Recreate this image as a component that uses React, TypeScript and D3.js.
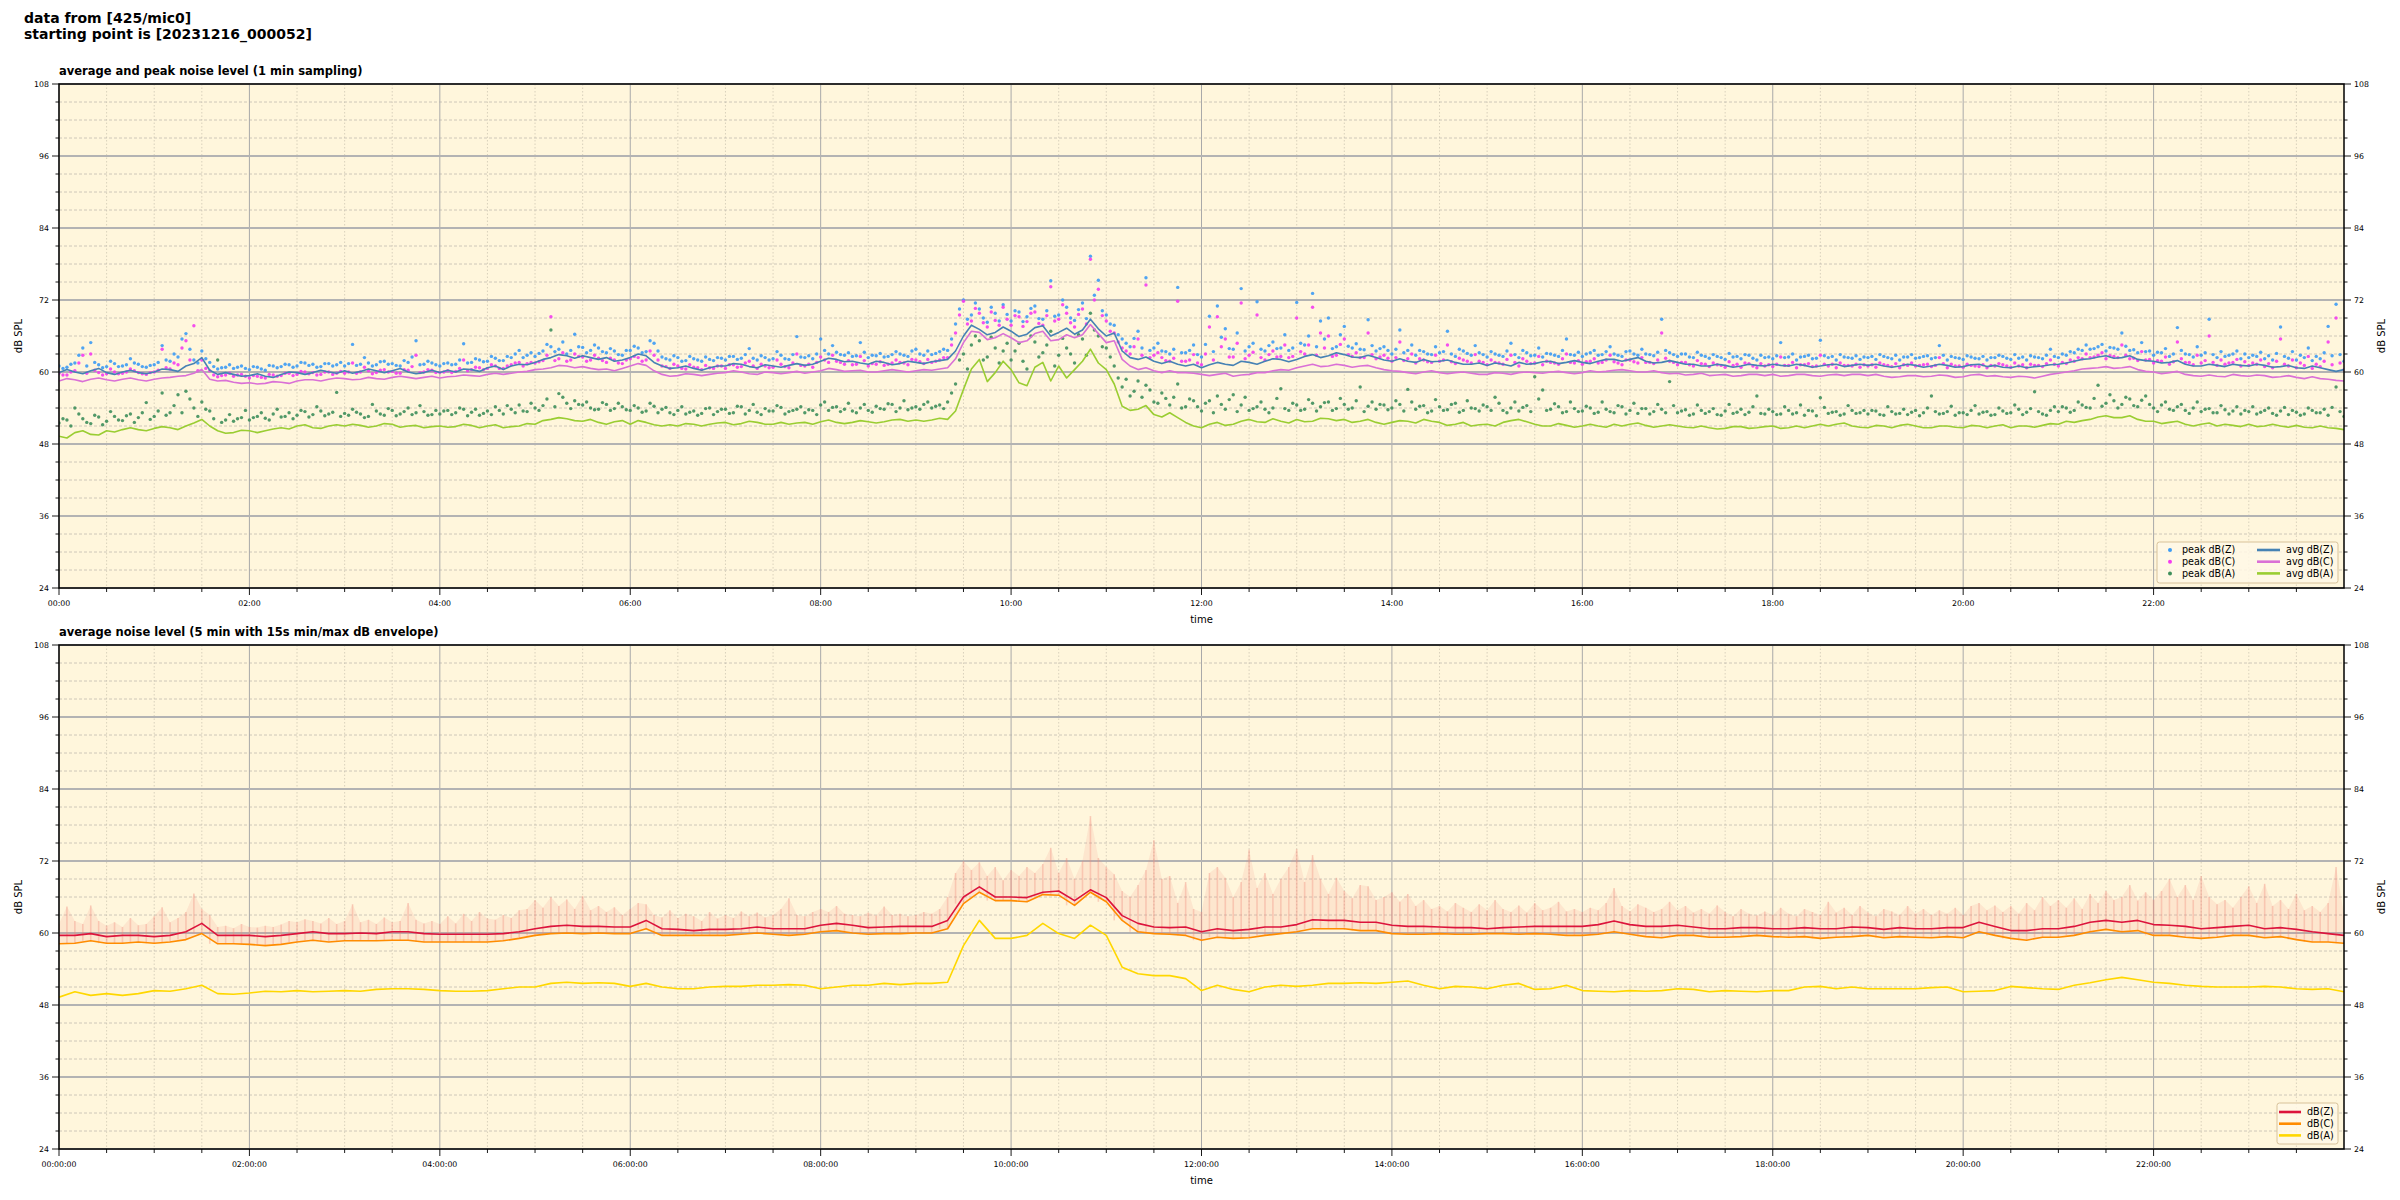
import React from "react";
import * as d3 from "d3";

// ---------- DATA ----------
// avg lines: values at hh:m0 (00:00 .. 24:00)
const avgZ = [
  59.9,60.0,60.2,59.9,60.0,59.9, 60.0,60.4,61.0,62.4,59.6,59.6, 59.4,59.3,59.6,59.9,59.9,60.0,
  60.2,60.1,60.2,60.2,60.0,59.9, 59.9,60.0,60.4,60.7,60.4,61.3, 61.6,62.4,62.7,62.7,62.1,61.8,
  62.4,62.7,61.0,60.7,60.6,60.7, 61.0,61.3,60.7,61.0,61.1,61.1, 61.8,62.1,61.8,61.3,61.6,61.4,
  61.6,61.7,62.1,66.0,67.1,66.6, 66.8,66.3,67.7,66.6,66.3,68.8, 66.0,63.5,62.1,61.8,61.8,61.0,
  60.7,61.6,61.1,61.6,61.8,62.1, 62.1,62.9,62.7,62.9,62.4,62.4, 61.8,61.8,62.1,61.8,61.6,61.3,
  61.1,61.3,61.6,61.4,61.8,61.6, 61.6,61.8,62.1,62.1,61.8,61.6, 61.6,61.3,61.0,61.1,61.0,61.1,
  61.3,61.0,61.1,61.0,61.3,61.1, 61.1,61.0,61.0,61.1,61.0,61.1, 60.9,61.3,61.1,60.7,60.7,61.0,
  61.3,61.8,62.2,62.7,62.4,62.1, 61.8,61.6,61.3,61.0,61.1,61.3, 61.0,61.1,60.9,60.7,61.0,60.4,
  60.4
];
// avg lines: values at hh:m5 (00:05 .. 23:55)
const avgZmid = [
  60.4,59.7,60.6,59.6,60.3,59.7, 60.5,60.1,61.4,60.3,59.9,59.3, 59.7,59.1,60.0,59.6,60.3,59.8,
  59.8,60.5,59.9,60.6,59.7,60.3, 60.3,60.5,60.1,61.0,61.0,61.2, 62.1,62.9,62.3,62.4,62.4,62.0,
  63.0,61.6,60.6,61.0,60.3,61.0, 61.4,60.9,61.2,60.8,61.4,61.3, 62.3,61.7,61.5,61.8,61.2,61.8,
  61.4,61.9,63.5,67.8,66.2,67.5, 65.9,67.4,66.0,67.3,67.0,67.2, 66.5,62.4,62.5,61.4,61.3,61.3,
  61.2,61.3,61.8,61.3,62.2,61.7, 62.6,62.4,63.2,62.5,62.8,62.0, 62.2,61.6,61.7,62.0,61.3,61.5,
  61.5,61.0,61.3,61.7,61.4,61.9, 61.4,62.1,61.8,62.4,61.5,61.9, 61.3,61.0,61.3,60.8,61.3,61.0,
  61.1,61.3,60.8,61.2,60.9,61.3, 61.3,60.8,61.3,60.8,61.3,60.8, 61.2,60.9,60.8,61.0,60.9,61.2,
  61.5,62.1,62.5,62.3,62.7,61.9, 61.5,61.9,61.0,61.3,60.9,61.1, 61.3,60.8,61.1,60.6,60.7,60.1
];
const avgC = [
  58.5,58.7,58.8,58.7,58.8,58.7, 58.8,59.1,59.4,60.4,58.5,58.3, 58.2,58.1,58.3,58.5,58.7,58.8,
  58.9,58.8,58.9,59.1,59.1,59.1, 59.0,59.3,59.4,59.6,59.6,60.0, 60.4,60.7,61.0,60.9,60.4,60.2,
  61.0,61.1,59.6,59.4,59.6,59.6, 59.9,60.0,59.6,59.9,59.9,59.8, 60.2,60.4,60.2,60.0,60.2,60.2,
  60.2,60.3,60.7,64.9,66.6,65.7, 65.7,65.2,66.8,65.4,65.7,67.9, 64.9,62.1,60.4,60.2,60.2,59.9,
  59.6,59.6,59.3,59.6,59.9,60.4, 60.7,61.3,61.0,61.1,61.0,60.7, 60.2,59.9,60.0,59.9,59.9,59.8,
  59.6,59.8,59.9,59.9,60.0,59.9, 59.9,60.0,60.3,60.2,60.0,59.9, 59.8,59.6,59.4,59.6,59.4,59.6,
  59.6,59.4,59.6,59.3,59.6,59.6, 59.4,59.3,59.2,59.4,59.3,59.4, 59.2,59.6,59.4,59.1,59.2,59.3,
  59.8,60.2,60.6,60.9,60.7,60.4, 60.0,59.9,59.6,59.3,59.3,59.6, 59.3,59.4,59.2,59.1,59.2,58.8,
  58.5
];
const avgCmid = [
  58.9,58.4,59.0,58.5,59.0,58.5, 59.0,59.3,59.8,58.8,58.6,58.1, 58.0,58.4,58.1,58.7,58.5,59.0,
  58.7,59.1,58.8,59.3,58.9,59.3, 59.2,59.5,59.3,59.8,59.8,60.1, 60.5,61.1,60.7,60.6,60.5,60.6,
  61.4,60.2,59.3,59.7,59.4,59.8, 60.2,59.7,60.0,59.7,60.1,60.0, 60.6,60.1,60.3,60.0,60.4,60.0,
  60.4,60.5,62.2,66.8,65.4,66.4, 64.9,66.4,65.2,66.2,66.2,66.4, 65.2,61.0,60.7,59.9,59.9,59.8,
  59.4,59.8,59.5,59.9,60.2,60.3, 61.0,60.9,61.3,60.8,61.1,60.4, 60.1,59.7,60.2,59.7,60.0,59.6,
  59.9,59.6,60.0,59.8,60.1,59.7, 60.2,60.1,60.4,60.0,60.2,59.7, 59.5,59.8,59.5,59.3,59.6,59.4,
  59.3,59.6,59.4,59.5,59.4,59.6, 59.6,59.1,59.4,59.2,59.5,59.1, 59.5,59.3,59.2,59.3,59.0,59.6,
  60.0,60.5,60.7,60.6,60.9,60.1, 59.7,60.1,59.4,59.5,59.2,59.4, 59.5,59.1,59.4,58.9,58.9,58.6
];
const avgA = [
  49.3,49.9,49.6,50.2,50.4,50.4, 50.6,50.7,51.0,52.1,50.2,49.9, 50.2,50.2,50.7,51.0,50.7,51.0,
  51.0,51.1,51.0,51.3,51.0,50.7, 51.0,50.9,51.1,51.0,50.7,51.0, 51.3,52.1,52.2,51.8,51.6,51.7,
  51.3,51.6,51.0,51.0,51.3,51.3, 51.6,51.4,51.6,51.3,51.3,51.6, 51.7,51.6,51.6,51.7,51.7,52.1,
  52.0,52.0,52.1,57.1,62.1,59.9, 60.4,57.7,61.6,61.0,60.4,63.8, 60.4,54.3,53.8,52.9,53.2,51.6,
  50.7,51.6,51.3,52.1,51.6,51.8, 52.1,51.8,52.2,52.1,51.8,51.6, 51.6,51.8,52.1,51.6,51.3,51.0,
  51.3,51.6,52.1,51.3,51.0,51.1, 51.0,51.0,51.3,51.3,51.1,51.0, 51.0,50.7,50.7,50.6,50.9,50.7,
  51.0,50.7,50.7,51.3,51.3,51.0, 50.7,51.0,51.1,51.0,50.7,51.0, 50.7,51.0,51.0,50.7,51.0,51.1,
  51.3,51.6,52.1,52.7,52.4,52.1, 51.8,51.6,51.3,51.3,51.0,51.1, 51.3,51.0,51.0,51.1,50.7,50.7,
  50.4
];
const avgAmid = [
  49.0,50.2,49.5,50.0,50.7,50.2, 50.9,50.4,51.5,51.0,49.8,50.3, 49.9,50.5,50.5,51.2,50.6,51.2,
  51.3,50.8,51.4,50.8,51.1,50.9, 50.8,51.3,50.7,51.2,50.9,51.4, 51.9,52.4,51.9,52.1,51.3,51.9,
  51.9,51.2,51.2,51.4,51.0,51.5, 51.2,51.8,51.3,51.6,51.5,51.3, 52.0,51.4,51.9,51.5,52.0,51.8,
  51.8,52.3,53.5,60.5,58.4,61.8, 58.2,60.8,58.5,59.0,61.8,61.5, 58.0,53.6,54.4,52.5,52.4,51.0,
  51.3,51.1,51.8,51.7,52.2,51.5, 51.7,52.3,51.9,51.6,52.1,51.3, 51.9,51.5,51.8,51.1,51.6,51.2,
  51.0,51.9,51.7,51.0,51.4,50.8, 51.3,50.8,51.0,51.5,50.8,51.2, 50.8,51.0,50.5,50.9,50.6,50.9,
  50.6,51.0,51.0,51.0,51.5,50.8, 51.1,50.7,51.3,50.7,51.0,50.8, 51.1,50.7,51.2,51.0,50.8,51.4,
  51.8,51.9,52.5,52.4,52.7,51.8, 51.4,51.8,51.0,51.5,51.3,50.9, 50.9,51.3,50.8,50.8,51.0,50.6
];

// peaks: values at hh:m0 and hh:m5 (00:00 .. 24:00), one row per hour
const peakZ = [
  61.0,60.8,61.5,64.0,64.9,61.2,60.9,61.4,61.0,62.2,61.3,60.8,
  61.2,64.4,61.8,62.5,66.4,62.0,63.5,61.6,60.5,60.8,60.6,61.0,
  60.4,60.8,60.3,61.0,60.9,61.2,61.0,61.5,61.3,60.9,61.4,61.2,
  61.0,64.6,61.3,61.5,61.2,61.8,61.4,61.0,61.6,65.2,61.3,61.5,
  61.0,61.5,61.3,64.7,61.6,62.0,61.8,62.3,61.9,62.4,63.6,62.8,
  62.6,63.5,64.2,63.8,63.0,66.3,64.1,63.6,64.0,63.2,63.5,62.8,
  63.6,64.0,63.4,64.8,62.5,62.0,62.4,61.9,62.2,61.8,62.1,62.4,
  62.0,62.6,62.3,63.9,62.0,62.4,62.2,62.8,62.1,65.9,62.4,62.2,
  65.5,63.0,63.3,62.8,62.6,64.9,62.4,62.7,62.5,62.9,63.0,62.6,
  63.8,62.8,62.9,63.4,63.6,68.0,72.0,69.5,70.5,68.3,69.8,71.2,
  68.5,70.0,69.2,71.0,68.8,75.2,69.5,70.8,68.6,71.5,79.3,75.3,
  69.5,67.8,65.5,64.2,66.8,75.7,64.0,63.5,63.0,74.1,63.2,64.5,
  62.5,69.3,71.0,67.2,63.8,73.9,64.2,71.7,63.5,65.0,64.0,63.6,
  71.6,64.5,73.1,68.5,69.0,64.2,67.6,64.0,63.8,68.7,63.5,64.2,
  63.0,67.0,63.6,62.8,63.4,62.9,63.2,66.8,62.6,63.5,62.8,63.2,
  62.5,63.0,62.6,64.8,62.4,63.2,62.8,62.5,63.0,62.6,65.5,62.8,
  62.6,63.2,62.8,63.4,63.0,62.6,63.5,62.8,63.0,62.7,68.8,63.2,
  62.6,63.0,62.4,62.8,62.3,62.6,62.1,62.5,62.2,62.8,62.0,62.4,
  62.2,64.9,62.5,62.0,62.6,62.2,65.3,62.4,62.0,62.5,62.3,62.1,
  62.4,62.1,62.6,62.2,62.0,62.5,62.3,62.6,62.2,64.4,62.0,62.4,
  62.1,62.5,62.2,62.0,62.4,62.6,62.1,62.3,62.0,62.5,62.2,63.8,
  62.4,62.8,63.2,63.6,63.8,64.2,63.5,64.0,66.5,63.6,63.2,63.4,
  62.8,63.2,62.6,67.4,63.0,62.5,62.8,68.8,62.4,62.6,63.0,62.2,
  62.4,62.6,62.2,62.0,67.5,62.3,62.0,62.4,61.9,62.2,67.6,71.3,
  61.8
];
// peaks: values at hh:m2:30 and hh:m7:30
const peakZb = [
  60.6,61.3,62.8,61.0,61.6,60.7,61.8,60.9,61.2,61.5,60.9,61.1,
  61.6,62.0,63.0,65.5,63.8,61.5,62.2,60.9,60.7,61.2,60.8,60.6,
  60.9,60.5,61.1,60.7,61.3,60.8,61.6,61.1,60.8,61.4,61.0,61.6,
  61.4,61.1,62.4,61.0,61.7,61.3,61.1,61.9,62.5,61.2,61.8,61.2,
  61.4,61.2,62.0,61.5,62.2,61.7,62.6,61.9,62.6,63.0,62.4,63.2,
  63.1,64.6,63.4,65.0,63.6,64.2,63.2,64.5,63.4,63.9,62.9,63.6,
  64.3,63.2,65.2,63.5,62.2,62.7,61.8,62.6,62.0,62.5,61.9,62.3,
  62.6,62.1,62.9,62.3,62.7,62.0,63.4,62.2,62.9,62.5,62.7,63.0,
  63.6,64.4,62.9,63.2,62.7,63.3,62.8,63.1,62.6,63.4,62.8,63.5,
  63.0,63.5,63.1,63.8,65.5,70.5,68.8,71.5,69.0,70.8,68.5,69.6,
  70.2,68.4,70.6,68.9,70.2,69.3,72.0,69.0,70.4,68.9,72.8,70.2,
  68.0,66.2,64.8,65.6,64.0,63.6,64.8,63.4,63.8,63.2,63.6,62.9,
  64.6,63.4,65.8,63.9,66.5,63.5,64.8,63.8,64.4,63.9,66.2,64.0,
  64.8,66.0,64.2,65.5,63.9,66.2,64.3,64.7,63.7,64.4,63.9,63.6,
  63.8,63.2,64.5,63.6,63.0,64.2,63.4,63.0,63.8,63.1,64.4,62.9,
  63.4,62.8,63.5,62.9,63.6,62.7,64.0,63.1,62.8,63.6,62.9,63.3,
  63.0,63.6,62.9,64.2,62.8,63.4,63.0,63.8,62.9,63.3,63.6,62.9,
  63.0,62.5,63.3,62.6,62.9,62.4,63.1,62.6,62.9,62.3,62.8,62.5,
  62.7,62.4,63.0,62.5,62.8,62.3,62.7,62.6,62.9,62.4,62.7,62.5,
  62.6,62.9,62.4,62.8,62.5,62.9,62.4,62.7,62.4,62.8,62.6,62.3,
  62.7,62.3,62.6,62.4,62.8,62.3,62.9,62.5,62.7,62.4,62.8,62.6,
  63.0,63.4,63.8,64.5,63.9,64.6,64.1,63.8,64.3,63.7,64.9,63.5,
  63.3,63.9,63.0,63.6,62.9,64.2,63.2,62.9,63.4,62.8,63.5,63.0,
  62.8,63.3,62.7,63.1,62.6,63.4,62.8,64.0,62.6,63.2,62.7,62.9
];
const peakC = [
  59.8,59.5,60.2,62.8,63.0,59.9,59.7,60.0,59.8,60.5,59.9,59.6,
  60.0,63.8,60.5,61.2,65.2,67.7,62.0,60.2,59.2,59.5,59.3,59.6,
  59.0,59.3,59.0,59.5,59.4,59.8,59.6,60.0,59.9,59.6,60.0,59.8,
  59.8,61.5,60.0,60.2,59.9,60.4,60.1,59.8,60.3,62.8,60.0,60.3,
  59.9,60.2,60.1,62.0,60.4,60.7,60.6,61.0,60.6,61.2,61.6,61.4,
  61.5,61.9,69.2,62.2,61.8,63.0,62.5,62.0,62.3,61.6,62.0,61.4,
  62.2,62.4,62.0,62.8,61.0,60.6,61.0,60.5,60.8,60.4,60.7,61.0,
  60.6,61.2,60.9,61.8,60.6,61.0,60.8,61.3,60.7,63.0,61.0,60.8,
  62.5,61.6,61.8,61.3,61.2,62.6,61.0,61.3,61.1,61.5,61.6,61.2,
  62.0,61.4,61.6,62.0,62.4,66.5,71.8,68.5,69.8,67.5,68.6,70.8,
  67.8,69.2,68.4,70.0,67.8,74.2,68.8,69.8,67.5,70.5,78.8,73.8,
  68.5,66.5,64.0,63.0,65.5,74.5,62.8,62.4,61.8,71.8,61.8,62.9,
  61.2,67.5,69.2,65.5,62.5,71.5,62.8,69.5,62.0,63.5,62.6,62.4,
  69.0,63.0,70.8,66.5,66.0,62.8,65.5,62.6,62.4,66.5,62.2,62.8,
  61.8,65.0,62.2,61.5,62.0,61.6,61.8,64.5,61.4,62.0,61.5,61.8,
  61.2,61.6,61.3,62.8,61.0,61.8,61.5,61.2,61.6,61.3,63.0,61.5,
  61.3,61.8,61.5,62.0,61.7,61.2,62.0,61.5,61.6,61.4,66.5,61.8,
  61.2,61.6,61.0,61.4,60.9,61.2,60.8,61.1,60.8,61.4,60.7,61.0,
  60.9,62.5,61.1,60.7,61.2,60.9,62.8,61.0,60.7,61.1,61.0,60.8,
  61.0,60.8,61.2,60.9,60.7,61.1,61.0,61.2,60.9,62.4,60.7,61.0,
  60.8,61.1,60.9,60.7,61.0,61.2,60.8,61.0,60.7,61.1,60.9,62.0,
  61.0,61.4,61.8,62.2,62.4,62.8,62.2,62.6,64.5,62.2,61.9,62.0,
  61.5,61.8,61.3,65.0,61.6,61.2,61.5,66.0,61.1,61.3,61.6,61.0,
  61.1,61.3,60.9,60.7,65.5,61.0,60.7,61.1,60.6,60.9,65.0,69.0,
  60.4
];
const peakCb = [
  59.5,60.0,61.5,59.8,60.3,59.5,60.5,59.7,60.0,60.2,59.7,59.9,
  60.3,60.7,61.5,64.0,62.0,60.2,60.6,59.5,59.4,59.8,59.5,59.3,
  59.4,59.1,59.6,59.3,59.8,59.4,60.1,59.7,59.5,60.0,59.6,60.1,
  60.0,59.8,60.8,59.7,60.3,60.0,59.8,60.4,60.9,59.9,60.4,59.9,
  60.0,59.9,60.6,60.2,60.8,60.4,61.2,60.6,61.0,61.5,61.0,61.6,
  61.7,62.8,61.9,63.2,62.0,62.6,61.8,62.8,61.9,62.3,61.5,62.0,
  62.6,61.8,63.5,62.0,60.9,61.3,60.6,61.2,60.7,61.1,60.6,61.0,
  61.2,60.8,61.5,61.0,61.3,60.7,62.0,60.9,61.5,61.1,61.3,61.6,
  62.0,62.8,61.6,61.9,61.3,61.9,61.4,61.7,61.3,62.0,61.5,62.1,
  61.7,62.1,61.8,62.4,64.5,69.5,68.0,70.6,68.2,70.0,67.8,68.8,
  69.4,67.6,69.8,68.1,69.4,68.5,71.2,68.2,69.6,68.0,72.0,69.4,
  66.8,65.0,63.5,64.2,62.8,62.4,63.2,61.9,62.3,61.8,62.0,61.5,
  63.0,62.0,64.2,62.5,64.8,62.2,63.3,62.4,62.9,62.5,64.5,62.6,
  63.4,64.5,62.8,64.0,62.6,64.6,62.9,63.2,62.4,62.9,62.5,62.3,
  62.4,61.9,63.0,62.2,61.7,62.8,62.0,61.7,62.3,61.8,62.9,61.6,
  62.0,61.5,62.1,61.6,62.2,61.4,62.6,61.8,61.5,62.2,61.6,61.9,
  61.7,62.2,61.6,62.8,61.5,62.0,61.7,62.4,61.6,62.0,62.3,61.6,
  61.6,61.2,61.9,61.3,61.5,61.1,61.7,61.3,61.5,61.0,61.4,61.2,
  61.3,61.1,61.6,61.2,61.4,61.0,61.3,61.3,61.5,61.1,61.3,61.2,
  61.2,61.5,61.1,61.4,61.2,61.5,61.1,61.3,61.1,61.4,61.3,61.0,
  61.3,61.0,61.2,61.1,61.4,61.0,61.5,61.2,61.3,61.1,61.4,61.3,
  61.6,62.0,62.4,63.0,62.5,63.2,62.7,62.4,62.8,62.3,63.4,62.1,
  61.9,62.5,61.7,62.2,61.6,62.8,61.9,61.6,62.0,61.5,62.1,61.7,
  61.5,62.0,61.4,61.8,61.3,62.0,61.5,62.6,61.3,61.8,61.2,61.5
];
const peakA = [
  51.5,52.0,54.0,52.2,51.4,52.5,51.8,52.6,51.9,53.0,52.4,54.9,
  52.6,56.5,53.2,56.2,56.8,54.0,55.0,53.5,62.0,52.0,51.8,52.4,
  52.0,52.6,52.3,53.0,52.5,53.2,52.8,53.4,52.9,53.5,53.0,56.6,
  53.1,53.8,53.0,52.6,53.5,52.8,53.6,53.0,54.0,53.2,53.4,52.9,
  53.0,53.6,53.2,53.8,53.3,52.8,53.5,54.2,53.0,53.8,54.5,53.4,
  54.0,54.4,67.0,56.4,54.8,55.2,54.5,54.0,53.8,54.6,53.9,54.2,
  53.6,54.0,53.5,54.3,53.8,53.2,53.6,53.0,53.5,53.1,54.0,53.4,
  53.8,53.2,54.2,53.6,53.3,53.9,53.5,54.1,53.4,53.8,53.2,53.6,
  54.5,53.6,54.2,53.8,53.5,54.0,53.6,54.3,53.8,54.6,54.0,53.7,
  54.2,54.6,54.0,54.5,55.0,58.0,63.0,64.5,65.2,62.5,64.0,63.5,
  62.0,64.8,60.5,65.0,63.2,66.8,62.8,64.0,61.5,65.5,69.8,66.0,
  64.0,61.0,57.5,56.0,58.5,57.8,55.0,56.5,54.5,58.0,54.2,55.2,
  53.5,55.2,56.0,53.8,56.2,54.5,53.6,54.2,53.8,54.0,57.2,53.6,
  54.5,53.8,54.8,54.2,55.0,53.9,54.6,54.0,57.5,54.3,53.8,54.5,
  54.0,54.6,57.1,53.8,54.4,53.5,54.2,53.7,54.8,53.6,54.0,53.5,
  54.2,55.8,53.6,54.0,53.5,54.4,59.2,57.0,53.8,54.2,53.4,53.9,
  53.5,54.0,53.3,53.8,53.2,54.2,53.6,53.1,53.9,53.4,53.8,58.4,
  53.2,53.7,53.0,53.6,53.4,52.9,53.5,53.1,53.8,53.3,56.0,53.0,
  53.4,53.0,53.6,53.2,52.8,53.5,55.7,53.1,53.4,53.0,53.6,53.2,
  53.0,53.5,52.8,53.4,53.1,52.9,53.6,53.2,56.0,53.0,53.4,52.8,
  53.2,53.6,53.0,53.4,52.9,53.5,53.2,53.8,53.3,56.7,53.0,53.6,
  53.4,54.0,53.6,54.5,54.0,57.8,54.8,55.2,54.6,55.5,54.2,56.0,
  54.0,54.5,53.8,54.2,53.6,54.0,53.4,53.9,53.2,53.7,53.5,53.0,
  53.4,53.0,53.6,53.1,53.5,52.9,53.3,53.0,53.6,53.2,52.8,57.5,
  52.6
];
const peakAb = [
  52.2,51.0,53.0,51.6,52.8,51.2,53.4,52.0,52.7,51.6,53.2,52.1,
  53.5,52.8,54.4,53.2,55.5,52.6,53.8,52.2,51.6,52.9,52.2,53.6,
  52.4,53.2,52.0,53.8,52.6,52.2,53.6,52.5,54.2,52.7,53.3,52.6,
  52.8,53.3,52.4,54.6,53.0,53.9,52.7,53.4,52.9,54.4,52.8,53.6,
  53.5,52.9,54.0,52.7,53.8,53.1,52.9,53.6,54.4,53.2,53.5,54.8,
  53.6,55.5,54.2,55.8,53.9,54.6,55.0,53.7,54.9,53.6,54.8,53.7,
  54.4,53.3,54.8,53.2,54.1,52.9,54.2,53.3,52.8,53.9,52.9,53.8,
  53.1,54.3,53.0,54.6,52.9,53.5,54.4,53.0,53.6,54.2,53.7,52.9,
  55.0,54.1,53.4,54.8,53.2,54.6,53.3,53.9,54.7,53.4,55.2,54.0,
  53.8,55.0,54.3,53.9,56.5,62.0,60.5,66.0,62.0,65.8,61.5,64.8,
  63.5,61.8,66.0,62.5,64.5,61.0,65.6,63.0,66.2,62.8,67.0,64.2,
  62.5,59.0,58.8,56.8,55.8,57.0,54.8,55.6,55.8,54.0,55.5,54.2,
  54.8,53.2,54.6,55.4,53.4,55.8,53.9,55.0,53.2,55.6,53.9,54.8,
  53.6,55.4,53.5,54.9,53.6,55.6,53.8,55.2,53.4,55.0,54.6,53.7,
  55.2,53.5,55.0,54.3,53.2,55.4,53.6,54.6,53.3,55.2,53.9,54.5,
  53.6,54.8,53.2,55.0,54.1,53.4,55.5,53.6,54.7,53.2,55.0,53.4,
  54.3,53.1,55.0,53.4,54.4,53.0,54.8,53.9,53.0,54.6,53.2,54.4,
  53.5,52.8,54.5,53.1,53.9,52.8,54.6,53.3,52.9,54.2,53.1,53.8,
  52.9,54.2,53.0,54.5,53.6,52.7,54.1,53.3,52.8,54.4,53.1,53.6,
  53.6,52.9,54.2,53.0,53.8,53.3,52.7,54.0,53.4,53.1,54.3,53.2,
  52.9,54.4,53.3,52.8,54.0,53.1,54.5,52.9,53.9,53.4,52.8,54.2,
  54.2,53.3,55.0,54.1,55.6,54.3,56.2,54.0,55.8,54.4,55.3,54.6,
  53.4,55.0,53.6,54.6,53.1,55.0,53.8,53.2,54.4,53.0,54.2,53.6,
  54.2,53.3,54.0,52.8,54.1,53.6,52.8,54.0,53.2,53.8,54.1,53.4
];

// bottom panel: 5-min averages sampled every 10 min
const dbZ = [
  59.6,59.6,59.9,59.4,59.6,59.6, 59.4,59.6,60.2,61.6,59.6,59.6, 59.6,59.4,59.6,59.9,60.2,59.9,
  59.9,60.0,59.9,60.2,60.2,59.9, 59.8,59.8,59.8,59.8,59.9,60.2, 60.7,61.1,61.3,61.1,61.1,61.0,
  61.0,62.1,60.7,60.6,60.4,60.6, 60.6,60.7,61.0,60.7,60.7,60.7, 61.3,61.6,61.3,60.9,61.0,61.1,
  61.1,61.1,62.1,66.0,67.7,66.0, 66.0,65.9,66.8,67.0,65.4,67.2, 65.9,62.9,61.6,61.0,60.9,61.0,
  60.2,60.7,60.4,60.6,61.0,61.0, 61.4,62.2,62.1,62.1,61.8,61.8, 61.3,61.1,61.1,61.0,60.9,60.9,
  60.7,60.9,61.0,61.1,61.1,61.1, 61.1,61.4,62.0,61.4,61.1,61.1, 61.3,61.0,60.7,60.7,60.9,60.9,
  60.7,60.7,60.9,60.7,60.7,61.0, 60.9,60.6,60.9,60.7,60.7,60.9, 60.9,61.8,61.1,60.4,60.4,60.7,
  60.7,61.1,61.8,62.1,61.8,62.1, 61.4,61.3,61.1,60.7,60.9,61.1, 61.3,60.7,60.9,60.6,60.2,59.9,
  59.6
];
const dbC = [
  58.2,58.3,58.7,58.3,58.3,58.5, 58.3,58.5,58.9,59.9,58.2,58.2, 58.1,57.9,58.1,58.5,58.8,58.5,
  58.7,58.7,58.7,58.8,58.8,58.5, 58.5,58.5,58.5,58.5,58.7,59.1, 59.6,59.9,60.0,59.9,60.0,59.9,
  59.9,60.7,59.6,59.6,59.6,59.6, 59.6,59.8,60.0,59.8,59.6,59.8, 60.2,60.4,60.0,59.8,59.9,59.9,
  60.0,60.0,60.7,64.9,66.8,65.4, 65.4,65.2,66.4,66.3,64.6,66.8, 65.2,62.1,60.2,59.9,59.8,59.6,
  58.8,59.3,59.1,59.2,59.6,59.9, 60.2,60.7,60.7,60.7,60.4,60.4, 59.9,59.8,59.8,59.9,59.8,59.8,
  59.9,59.9,59.8,59.9,59.8,59.6, 59.6,59.8,60.2,59.8,59.4,59.2, 59.6,59.6,59.3,59.3,59.4,59.6,
  59.4,59.3,59.4,59.1,59.3,59.4, 59.6,59.2,59.4,59.3,59.2,59.4, 59.2,60.2,59.6,59.1,58.8,59.3,
  59.3,59.6,60.2,60.6,60.2,60.4, 59.6,59.6,59.3,59.1,59.3,59.6, 59.6,59.2,59.4,58.9,58.5,58.5,
  58.3
];
const dbA = [
  49.3,50.2,49.6,49.9,49.6,49.9, 50.4,50.3,50.7,51.3,49.9,49.8, 50.0,50.3,50.2,50.4,50.2,50.3,
  50.4,50.3,50.6,50.7,50.7,50.6, 50.4,50.3,50.3,50.4,50.7,51.0, 51.0,51.6,51.8,51.6,51.7,51.6,
  51.1,51.6,51.0,50.7,50.7,51.0, 51.1,51.1,51.3,51.3,51.4,51.3, 50.7,51.0,51.3,51.3,51.6,51.4,
  51.6,51.6,51.8,57.9,62.1,59.1, 59.1,59.6,61.6,59.9,59.1,61.3, 59.6,54.3,53.2,52.9,52.9,52.4,
  50.4,51.3,50.6,50.2,51.0,51.3, 51.1,51.3,51.6,51.6,51.7,51.6, 51.8,52.0,51.3,50.7,51.1,51.0,
  50.7,51.3,51.6,50.6,50.7,51.3, 50.4,50.3,50.2,50.4,50.3,50.4, 50.7,50.6,50.2,50.4,50.3,50.2,
  50.4,50.4,51.0,51.1,50.7,51.0, 50.7,50.7,50.7,50.7,50.9,51.0, 50.2,50.3,50.4,51.1,50.9,50.7,
  50.6,51.3,51.7,52.2,52.6,52.2, 51.8,51.6,51.3,51.1,51.0,51.0, 51.0,51.1,51.0,50.7,50.6,50.7,
  50.2
];
// 15 s max envelope, highest value per 5 minutes
const envMax = [
  61.5,64.4,62.0,61.5,64.6,62.0,61.2,61.8,61.0,62.5,61.3,61.5,
  62.8,64.3,61.8,62.5,63.5,66.6,64.0,63.0,61.0,61.2,60.8,61.5,
  61.0,60.9,61.2,61.0,61.4,62.0,61.8,62.3,62.0,61.6,62.5,61.5,
  62.0,64.8,61.8,62.2,61.5,62.6,61.8,62.0,65.0,62.2,61.6,62.0,
  61.5,62.8,61.6,63.2,62.0,63.5,62.4,62.2,63.0,62.5,63.8,64.0,
  65.5,64.2,66.0,64.5,65.6,64.0,66.2,63.8,64.5,63.5,64.3,63.0,
  64.0,65.0,64.8,63.0,62.6,63.8,62.5,63.2,62.8,62.0,63.5,62.4,
  63.0,62.5,63.6,62.8,63.4,62.6,63.0,64.0,65.8,63.0,62.8,63.5,
  64.0,63.5,64.5,63.2,63.0,62.8,63.4,62.9,64.4,63.0,63.2,62.8,
  63.0,63.5,63.2,64.0,66.0,70.0,72.0,70.5,71.8,69.5,71.0,68.8,
  70.5,69.5,71.0,70.0,71.5,74.2,70.0,72.5,69.0,72.0,79.5,72.5,
  71.0,69.8,67.0,66.0,68.0,70.5,75.5,69.0,69.5,65.0,68.5,64.0,
  63.5,70.0,71.0,69.2,66.0,68.5,73.9,67.5,70.0,66.5,69.0,71.0,
  74.0,68.5,73.0,69.0,66.5,69.2,67.0,65.8,68.0,67.8,65.5,66.0,
  66.8,65.2,66.5,64.5,65.5,64.0,64.5,63.6,65.0,64.2,63.5,64.8,
  63.8,65.5,64.0,63.5,64.6,63.4,65.0,63.8,64.2,65.2,63.6,64.0,
  63.5,64.2,63.8,65.0,67.5,64.5,63.6,64.8,64.2,63.5,64.0,65.2,
  63.8,64.5,63.4,64.0,63.2,64.6,63.5,62.8,64.0,63.2,62.9,63.6,
  63.0,64.2,63.2,62.8,64.0,63.5,63.0,65.2,63.4,64.2,63.0,64.5,
  63.4,62.8,64.0,63.6,63.0,64.5,63.2,64.0,63.0,63.8,63.2,64.2,
  63.0,64.5,65.0,63.8,64.6,63.5,64.5,63.2,65.0,63.8,66.0,64.5,
  65.5,64.2,65.8,64.0,66.5,65.0,67.0,65.5,66.0,68.0,65.4,66.8,
  65.5,67.0,69.0,66.0,68.0,65.5,69.5,66.0,64.8,65.5,64.2,66.0,
  67.8,65.0,68.2,64.5,65.5,64.0,66.5,63.8,64.5,63.5,65.0,71.0,
  63.0
];

const yTicks = [24, 36, 48, 60, 72, 84, 96, 108];

// ---------- LAYOUT ----------
const W = 2400, H = 1200;
const X0 = 59, X1 = 2344;
const BG = "#fff6dc";
const x = d3.scaleLinear().domain([0, 24 * 60]).range([X0, X1]);
const FONT = "DejaVu Sans, sans-serif";

const pad = (n: number) => String(n).padStart(2, "0");

type PanelProps = {
  top: number;
  bottom: number;
  title: string;
  secs: boolean;
  children: (y: d3.ScaleLinear<number, number>) => React.ReactNode;
};

function Panel({ top, bottom, title, secs, children }: PanelProps) {
  const y = d3.scaleLinear().domain([24, 108]).range([bottom, top]);
  const minorY = d3.range(24, 109, 3).filter((v) => v % 12 !== 0);
  const majorX = d3.range(0, 24 * 60 + 1, 120).filter((v) => v < 24 * 60);
  const minorX = d3.range(0, 24 * 60 + 1, 30).filter((v) => v % 120 !== 0);
  const clipId = `clip${top}`;
  return (
    <g>
      <defs>
        <clipPath id={clipId}>
          <rect x={X0} y={top} width={X1 - X0} height={bottom - top} />
        </clipPath>
      </defs>
      <rect x={X0} y={top} width={X1 - X0} height={bottom - top} fill={BG} />
      {minorX.map((t) => (
        <line key={"mx" + t} x1={x(t)} x2={x(t)} y1={top} y2={bottom} stroke="#cfc8b4" strokeWidth={0.8} strokeDasharray="1.5,2" />
      ))}
      {minorY.map((v) => (
        <line key={"my" + v} x1={X0} x2={X1} y1={y(v)} y2={y(v)} stroke="#c2bdb0" strokeWidth={0.8} strokeDasharray="3,2" />
      ))}
      {majorX.map((t) => (
        <line key={"Mx" + t} x1={x(t)} x2={x(t)} y1={top} y2={bottom} stroke="#a9a9a9" strokeWidth={1} />
      ))}
      {yTicks.map((v) => (
        <line key={"My" + v} x1={X0} x2={X1} y1={y(v)} y2={y(v)} stroke="#b3b3b3" strokeWidth={1.8} />
      ))}
      <g clipPath={`url(#${clipId})`}>{children(y)}</g>
      <rect x={X0} y={top} width={X1 - X0} height={bottom - top} fill="none" stroke="#000" strokeWidth={1.5} />
      {d3.range(24, 109, 3).map((v) => {
        const major = v % 12 === 0;
        const len = major ? 7 : 3.5;
        return (
          <g key={"yt" + v}>
            <line x1={X0 - len} x2={X0} y1={y(v)} y2={y(v)} stroke="#000" strokeWidth={0.9} />
            <line x1={X1} x2={X1 + len} y1={y(v)} y2={y(v)} stroke="#000" strokeWidth={0.9} />
          </g>
        );
      })}
      {yTicks.map((v) => (
        <g key={"yl" + v} fontFamily={FONT} fontSize={7.8} fill="#000">
          <text x={X0 - 10} y={y(v)} dy="0.35em" textAnchor="end">{v}</text>
          <text x={X1 + 10} y={y(v)} dy="0.35em" textAnchor="start">{v}</text>
        </g>
      ))}
      {d3.range(0, 24 * 60, 30).map((t) => {
        const major = t % 120 === 0;
        return <line key={"xt" + t} x1={x(t)} x2={x(t)} y1={bottom} y2={bottom + (major ? 7 : 4)} stroke="#000" strokeWidth={0.9} />;
      })}
      {majorX.map((t) => (
        <text key={"xl" + t} x={x(t)} y={bottom + 18} textAnchor="middle" fontFamily={FONT} fontSize={7.8} fill="#000">
          {pad(Math.floor(t / 60)) + ":" + pad(t % 60) + (secs ? ":00" : "")}
        </text>
      ))}
      <text x={(X0 + X1) / 2} y={bottom + 35} textAnchor="middle" fontFamily={FONT} fontSize={10} fill="#000">time</text>
      <text transform={`translate(22,${(top + bottom) / 2}) rotate(-90)`} textAnchor="middle" fontFamily={FONT} fontSize={10} fill="#000">dB SPL</text>
      <text transform={`translate(2385,${(top + bottom) / 2}) rotate(-90)`} textAnchor="middle" fontFamily={FONT} fontSize={10} fill="#000">dB SPL</text>
      <text x={X0} y={top - 9} fontFamily={FONT} fontSize={11.5} fontWeight="bold" fill="#000">{title}</text>
    </g>
  );
}

type Pt = { t: number; v: number };
// merge on-the-ten and on-the-five samples into one time-ordered series
const mergeSeries = (main: number[], mid: number[]): Pt[] => {
  const out: Pt[] = [];
  main.forEach((v, i) => {
    out.push({ t: i * 10, v });
    if (i < mid.length) out.push({ t: i * 10 + 5, v: mid[i] });
  });
  return out;
};
const peakPoints = (a: number[], b: number[]): Pt[] => [
  ...a.map((v, i) => ({ t: i * 5, v })),
  ...b.map((v, i) => ({ t: i * 5 + 2.5, v })),
];

export default function App() {
  const TOP1 = 84, BOT1 = 588, TOP2 = 645, BOT2 = 1149;

  const peakSets = [
    { pts: peakPoints(peakZ, peakZb), color: "#3d9cf5", label: "peak dB(Z)" },
    { pts: peakPoints(peakC, peakCb), color: "#f53cf0", label: "peak dB(C)" },
    { pts: peakPoints(peakA, peakAb), color: "#3f8f5c", label: "peak dB(A)" },
  ];
  const avgSets = [
    { pts: mergeSeries(avgZ, avgZmid), color: "#4682b4", label: "avg dB(Z)" },
    { pts: mergeSeries(avgC, avgCmid), color: "#da70d6", label: "avg dB(C)" },
    { pts: mergeSeries(avgA, avgAmid), color: "#9acd32", label: "avg dB(A)" },
  ];
  const botSets = [
    { data: dbZ, color: "#dc143c", label: "dB(Z)" },
    { data: dbC, color: "#ff8c00", label: "dB(C)" },
    { data: dbA, color: "#ffd700", label: "dB(A)" },
  ];

  return (
    <svg width={W} height={H} style={{ display: "block", position: "absolute", left: 0, top: 0, background: "#fff" }}>
      <rect width={W} height={H} fill="#fff" />
      <text x={24} y={23} fontFamily={FONT} fontSize={14} fontWeight="bold" fill="#000">data from [425/mic0]</text>
      <text x={24} y={39} fontFamily={FONT} fontSize={14} fontWeight="bold" fill="#000">starting point is [20231216_000052]</text>

      <Panel top={TOP1} bottom={BOT1} title="average and peak noise level (1 min sampling)" secs={false}>
        {(y) => {
          const ln = d3.line<Pt>().x((p) => x(p.t)).y((p) => y(p.v));
          return (
            <g>
              {peakSets.map((s) => (
                <g key={s.label} fill={s.color} opacity={0.9}>
                  {s.pts.map((p, i) => (
                    <circle key={i} cx={x(p.t)} cy={y(p.v)} r={1.7} />
                  ))}
                </g>
              ))}
              {avgSets.map((s) => (
                <path key={s.label} d={ln(s.pts) || ""} fill="none" stroke={s.color} strokeWidth={1.6} strokeLinejoin="round" />
              ))}
            </g>
          );
        }}
      </Panel>

      <Panel top={TOP2} bottom={BOT2} title="average noise level (5 min with 15s min/max dB envelope)" secs={true}>
        {(y) => {
          const pts: [number, number][] = [
            ...envMax.map((d, i) => [x(i * 5), y(d)] as [number, number]),
            ...dbC.map((d, i) => [x(i * 10), y(d)] as [number, number]).reverse(),
          ];
          const env = d3.line()(pts) + "Z";
          const ln = d3.line<number>().x((_, i) => x(i * 10)).y((d) => y(d));
          return (
            <g>
              <path d={env} fill="#f08a7a" fillOpacity={0.14} stroke="none" />
              {envMax.map((d, i) => {
                const base = dbC[Math.min(dbC.length - 1, Math.round(i / 2))];
                return (
                  <line key={i} x1={x(i * 5)} x2={x(i * 5)} y1={y(base)} y2={y(d)} stroke="#f08a7a" strokeOpacity={0.35} strokeWidth={1.6} />
                );
              })}
              {botSets.map((s) => (
                <path key={s.label} d={ln(s.data) || ""} fill="none" stroke={s.color} strokeWidth={1.6} strokeLinejoin="round" />
              ))}
            </g>
          );
        }}
      </Panel>

      <g fontFamily={FONT} fontSize={9.6} fill="#000">
        <rect x={2157} y={542} width={181} height={41} rx={2.5} fill="#fff8e6" fillOpacity={0.85} stroke="#d8c29a" strokeWidth={1} />
        {peakSets.map((s, i) => (
          <g key={s.label}>
            <circle cx={2170} cy={550 + i * 11.7} r={2} fill={s.color} />
            <text x={2182} y={550 + i * 11.7} dy="0.35em">{s.label}</text>
          </g>
        ))}
        {avgSets.map((s, i) => (
          <g key={s.label}>
            <line x1={2257} x2={2280} y1={550 + i * 11.7} y2={550 + i * 11.7} stroke={s.color} strokeWidth={2.6} />
            <text x={2286} y={550 + i * 11.7} dy="0.35em">{s.label}</text>
          </g>
        ))}
      </g>
      <g fontFamily={FONT} fontSize={9.6} fill="#000">
        <rect x={2277} y={1103} width={61} height={41} rx={2.5} fill="#fff8e6" fillOpacity={0.85} stroke="#d8c29a" strokeWidth={1} />
        {botSets.map((s, i) => (
          <g key={s.label}>
            <line x1={2279} x2={2301} y1={1112 + i * 11.7} y2={1112 + i * 11.7} stroke={s.color} strokeWidth={2.6} />
            <text x={2307} y={1112 + i * 11.7} dy="0.35em">{s.label}</text>
          </g>
        ))}
      </g>
    </svg>
  );
}
